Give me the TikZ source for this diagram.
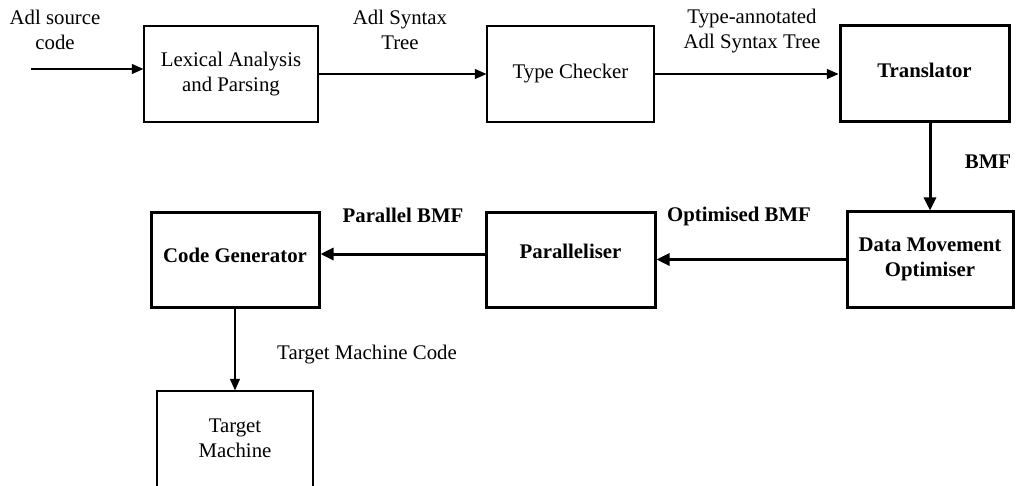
\documentclass[tikz,border=0pt]{standalone}
\usepackage{fontspec}
\setmainfont{Liberation Serif}
\usetikzlibrary{arrows.meta}
\begin{document}
\begin{tikzpicture}[x=0.5pt,y=-0.5pt,
  every node/.style={font=\fontsize{10.4}{12.8}\selectfont, align=center, inner sep=0pt},
  stage/.style={draw, line width=0.6pt, minimum width=#1, minimum height=48pt},
  keystage/.style={draw, line width=1.5pt, minimum width=#1, minimum height=47pt,
    font=\fontsize{10.4}{12.8}\selectfont\bfseries},
  flow/.style={line width=0.6pt, -{Triangle[length=5.8pt,width=5pt]}},
  keyflow/.style={line width=1.5pt, -{Triangle[length=6.5pt,width=6pt]}},
  tag/.style={},
  keytag/.style={font=\fontsize{10.4}{12.8}\selectfont\bfseries}]
\useasboundingbox (0,0) rectangle (1016,486);

% front end
\node[stage=87pt]   (lex) at (231,74)   {Lexical Analysis\\and Parsing};
\node[stage=83.5pt] (tc)  at (570.5,74) {Type Checker};
\node[keystage=84.5pt, minimum height=48pt, text depth=4pt] (tr) at (924.5,74) {Translator};

% optimisation and code generation
\node[keystage=83pt, minimum height=47.5pt] (dmo) at (930,259.5) {Data Movement\\Optimiser};
\node[keystage=84.5pt, text depth=9pt] (par) at (570.5,260) {Paralleliser};
\node[keystage=84pt, text depth=4.3pt] (cg) at (235,260) {Code Generator};
\node[stage=78pt, minimum height=50pt, text depth=3pt] (tm) at (235,441) {Target\\Machine};

% input
\coordinate (src) at (31,69);
\node[tag] (srclbl) at (55,30) {Adl source\\code};
\draw[flow] (src) -- (src -| lex.west);

% connectors
\draw[flow] (lex.east) -- (tc.west);
\draw[flow] (tc.east) -- (tr.west);
\draw[keyflow] (dmo.north |- tr.south) -- (dmo.north);
\draw[keyflow] (dmo.west) -- (dmo.west -| par.east);
\draw[keyflow] ([yshift=3pt]par.west) -- ([yshift=3pt]par.west -| cg.east);
\draw[flow] (cg.south) -- (tm.north);

% connector labels
\node[tag] (ast)  at (400,30)   {Adl Syntax\\Tree};
\node[tag] (tast) at (752,31)   {Type-annotated\\Adl Syntax Tree};
\node[keytag] (bmf)  at (988,162)  {BMF};
\node[keytag] (obmf) at (739,216)  {Optimised BMF};
\node[keytag] (pbmf) at (403,215)  {Parallel BMF};
\node[tag] (tmc)  at (367,354.5) {Target Machine Code};
\end{tikzpicture}
\end{document}
